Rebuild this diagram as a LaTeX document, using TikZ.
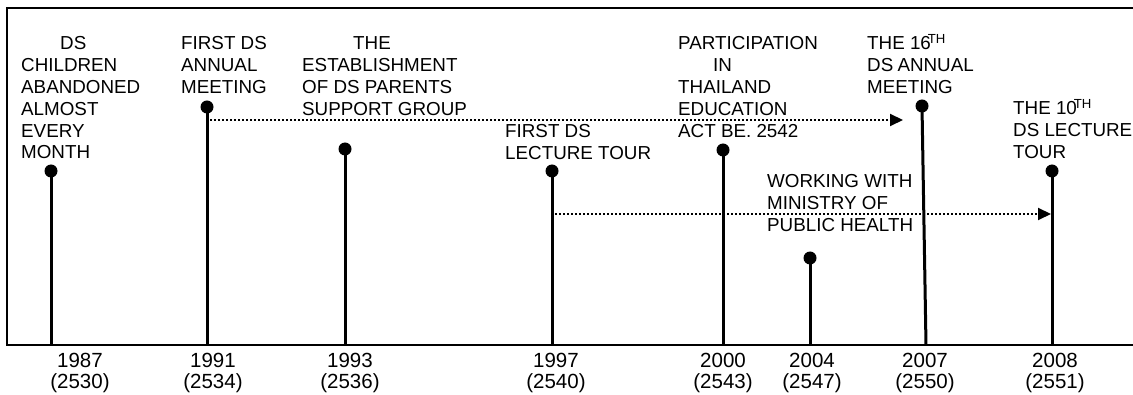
\documentclass[tikz,border=0pt]{standalone}
\usepackage{fontspec}
\setmainfont{Liberation Sans}
\usetikzlibrary{arrows.meta}
\newcommand{\mlines}[1]{\begin{tabular}[t]{@{}l@{}}#1\end{tabular}}
\newcommand{\clines}[1]{\begin{tabular}[t]{@{}c@{}}#1\end{tabular}}
\begin{document}
\begin{tikzpicture}[x=1pt,y=-1pt,
  evt/.style={anchor=base west,inner sep=0pt,font=\fontsize{18.8}{21.8}\selectfont},
  yr/.style={anchor=base,inner sep=0pt,font=\fontsize{20.5}{21}\selectfont},
  evdot/.style={circle,fill=black,inner sep=0pt,minimum size=13pt},
  stemline/.style={line width=3pt},
  frameline/.style={line width=2pt},
  spanarrow/.style={line width=2pt,dash pattern=on 2pt off 2pt,-{Triangle[length=13pt,width=12pt]}}]
\useasboundingbox (0,0) rectangle (1133,395);
\clip (0,0) rectangle (1133,395);
\fill[white] (0,0) rectangle (1133,395);
% frame
\draw[frameline] (1135,8) -- (7,8) -- (7,345) -- (1135,345);
% dots
\node[evdot] (d1987) at (51,171) {};
\node[evdot] (d1991) at (207,107) {};
\node[evdot] (d1993) at (345,149) {};
\node[evdot] (d1997) at (552,171) {};
\node[evdot] (d2000) at (723,150) {};
\node[evdot] (d2004) at (810,258) {};
\node[evdot] (d2007) at (922,106) {};
\node[evdot] (d2008) at (1052,171) {};
% base points
\coordinate (b1987) at (51,345);
\coordinate (b1991) at (207,345);
\coordinate (b1993) at (345,345);
\coordinate (b1997) at (552,345);
\coordinate (b2000) at (723,345);
\coordinate (b2004) at (810,345);
\coordinate (b2007) at (926,345);
\coordinate (b2008) at (1052,345);
\foreach \y in {1987,1991,1993,1997,2000,2004,2007,2008}
  \draw[stemline] (d\y.center) -- (b\y);
% dotted spans
\coordinate (s1) at (210,120);
\coordinate (e1) at (903,120);
\coordinate (s2) at (555,214);
\coordinate (e2) at (1051,214);
\draw[spanarrow] (s1) -- (e1);
\draw[spanarrow] (s2) -- (e2);
% event labels
\node[evt] (l1987) at (21,50) {\mlines{\hspace{39pt}DS\\CHILDREN\\ABANDONED\\ALMOST\\EVERY\\MONTH}};
\node[evt] (l1991) at (181,50) {\mlines{FIRST DS\\ANNUAL\\MEETING}};
\node[evt] (l1993) at (302,50) {\mlines{\hspace{51pt}THE\\ESTABLISHMENT\\OF DS PARENTS\\SUPPORT GROUP}};
\node[evt] (l1997) at (505,138) {\mlines{FIRST DS\\LECTURE TOUR}};
\node[evt] (l2000) at (678,50) {\mlines{PARTICIPATION\\\hspace{35pt}IN\\THAILAND\\EDUCATION\\ACT BE. 2542}};
\node[evt] (l2004) at (767,188) {\mlines{WORKING WITH\\MINISTRY OF\\PUBLIC HEALTH}};
\node[evt] (l2007) at (867,50) {\mlines{THE 16\kern-3pt\textsuperscript{TH}\\DS\kern-1pt\ ANNUAL\\MEETING}};
\node[evt] (l2008) at (1013,115) {\mlines{THE 10\kern-3pt\textsuperscript{TH}\\DS LECTURE\\TOUR}};
% years
\node[yr] (y1987) at (80,367) {\clines{1987\\(2530)}};
\node[yr] (y1991) at (213,367) {\clines{1991\\(2534)}};
\node[yr] (y1993) at (350,367) {\clines{1993\\(2536)}};
\node[yr] (y1997) at (556,367) {\clines{1997\\(2540)}};
\node[yr] (y2000) at (723,367) {\clines{2000\\(2543)}};
\node[yr] (y2004) at (812,367) {\clines{2004\\(2547)}};
\node[yr] (y2007) at (925,367) {\clines{2007\\(2550)}};
\node[yr] (y2008) at (1055,367) {\clines{2008\\(2551)}};
\end{tikzpicture}
\end{document}
